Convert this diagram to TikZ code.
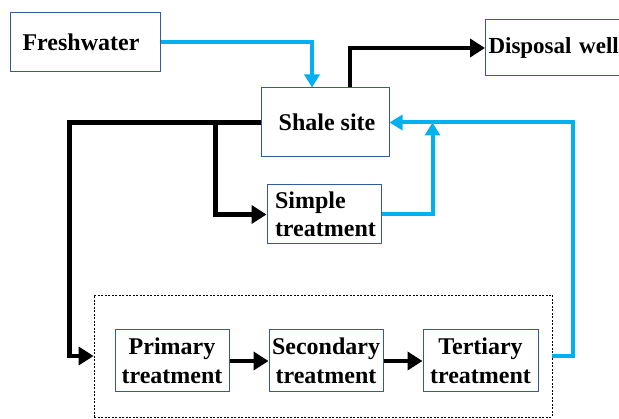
\documentclass[tikz,border=0pt]{standalone}
\usepackage{fontspec}
\setmainfont{Liberation Serif}
\usepackage{xcolor}
\usepackage{tikz}
\usetikzlibrary{calc,arrows.meta}
\definecolor{boxblue}{RGB}{50,90,160}
\definecolor{flowcyan}{RGB}{0,176,240}

\begin{document}
\begin{tikzpicture}[x=1pt,y=-1pt,
	box/.style={draw=boxblue,line width=1pt,fill=white,inner sep=0pt,
		font=\fontsize{24}{28.5}\selectfont\bfseries},
	blackflow/.style={line width=4.5pt,draw=black,
		-{Triangle[length=15pt,width=18pt]}},
	blueflow/.style={line width=4pt,draw=flowcyan,
		-{Triangle[length=13pt,width=15pt,fill=flowcyan]}},
	dashbox/.style={draw=black,dash pattern=on 2pt off 1.5pt,line width=0.8pt,
		inner sep=0pt},
	]
	\useasboundingbox (0,0) rectangle (619,419);
	
	% 处理单元（虚线框）
	\node[dashbox,minimum width=458pt,minimum height=122pt] (plant) at (323,356) {};
	
	% 方框
	\node[box,minimum width=150pt,minimum height=59pt] (fresh) at (85,42.5) {Freshwater\,\,};
	\node[box,anchor=west,text width=160pt,align=left,inner xsep=3pt,
	font=\fontsize{23}{28}\selectfont\bfseries,
	minimum height=56pt] (disp) at (485,48) {Disposal well};
	\node[box,minimum width=128pt,minimum height=69pt] (shale) at (325,122.5) {\,Shale site};
	\node[box,minimum width=114pt,minimum height=59pt,text width=98pt,align=left,
	inner xsep=8pt] (simple) at (324,214.5) {Simple\\treatment};
	\node[box,minimum width=114pt,minimum height=62pt,align=center]
	(prim) at (172,361) {Primary\\treatment};
	\node[box,minimum width=114pt,minimum height=62pt,align=center]
	(sec) at (326,361) {Secondary\\treatment};
	\node[box,minimum width=115pt,minimum height=62pt,align=center]
	(tert) at (480.5,361) {Tertiary\\treatment};
	
	% 分支点
	\coordinate (branch) at ([xshift=-45pt]shale.west);
	
	% 淡水 -> 页岩场地
	\draw[blueflow] (fresh.east) -| ([xshift=-13pt]shale.north);
	
	% 页岩场地 -> 处置井
	\draw[blackflow] ([xshift=25pt]shale.north) |- (disp.west);
	
	% 页岩场地 -> 处理单元
	\draw[blackflow] (shale.west) -| ([xshift=-24pt]plant.west) -- (plant.west);
	\draw[blackflow] (branch) |- (simple.west);
	
	% 回用
	\draw[blueflow] (simple.east) -| ([xshift=43pt]shale.east);
	\draw[blueflow] (plant.east) -- ++(21,0) |- (shale.east);
	
	% 串联处理
	\draw[blackflow] (prim.east) -- (sec.west);
	\draw[blackflow] (sec.east) -- (tert.west);
\end{tikzpicture}
\end{document}
